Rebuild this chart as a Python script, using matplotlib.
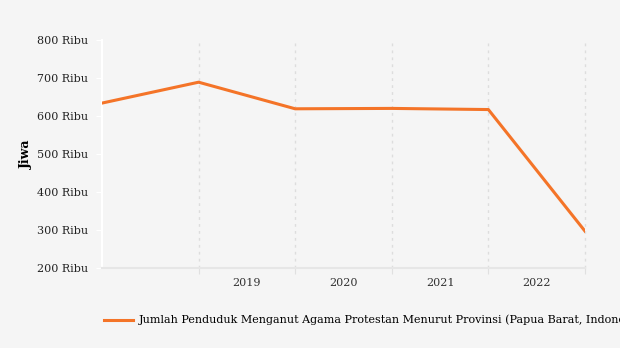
import matplotlib
matplotlib.use("Agg")
import matplotlib.pyplot as plt
from matplotlib.ticker import FuncFormatter

# data
x_pos = [0, 1, 2, 3, 4, 5]
jiwa = [634000, 689000, 619000, 620000, 617000, 297000]
tahun = ["2019", "2020", "2021", "2022"]
label_series = "Jumlah Penduduk Menganut Agama Protestan Menurut Provinsi (Papua Barat, Indonesia)"

plt.rcParams['font.family'] = ['DejaVu Serif']
bg = '#f5f5f5'

fig = plt.figure(figsize=(6.2, 3.48), dpi=100, facecolor=bg)
ax = fig.add_axes([0.1645, 0.2299, 0.779, 0.6551], facecolor=bg)

ax.plot(x_pos, jiwa, color='#f47428', linewidth=2.2, label=label_series, zorder=3)

ax.set_xlim(0, 5)
ax.set_ylim(200000, 800000)
ax.set_yticks(range(200000, 800001, 100000))
ax.yaxis.set_major_formatter(FuncFormatter(lambda v, p: f"{int(v/1000)} Ribu"))

# gridlines at boundaries, labels centred between them
ax.set_xticks([1, 2, 3, 4, 5])
ax.set_xticklabels([])
ax.set_xticks([1.5, 2.5, 3.5, 4.5], minor=True)
ax.set_xticklabels(tahun, minor=True)
ax.tick_params(axis='x', which='major', length=4, color='#e0e0e0')
ax.tick_params(axis='x', which='minor', length=0, labelsize=8, colors='#333333', pad=7)
ax.tick_params(axis='y', length=4, color='white', labelsize=8, labelcolor='#222222', pad=6)
ax.grid(axis='x', which='major', linestyle=(0, (2, 3)), color='#dddddd', linewidth=1)
for gl in ax.get_xgridlines():
    gl.set_clip_on(False)

for s in ['top', 'right']:
    ax.spines[s].set_visible(False)
ax.spines['left'].set_color('white')
ax.spines['left'].set_linewidth(1.5)
ax.spines['bottom'].set_color('#e6e6e6')
ax.spines['bottom'].set_linewidth(1.5)

ax.set_ylabel("Jiwa", fontsize=9, fontweight='bold', labelpad=3)

fig.legend(loc='center left', bbox_to_anchor=(0.152, 0.08), frameon=False,
           fontsize=8, handlelength=2.6, handletextpad=0.5)

fig.savefig('out.png', dpi=100, facecolor=bg)
